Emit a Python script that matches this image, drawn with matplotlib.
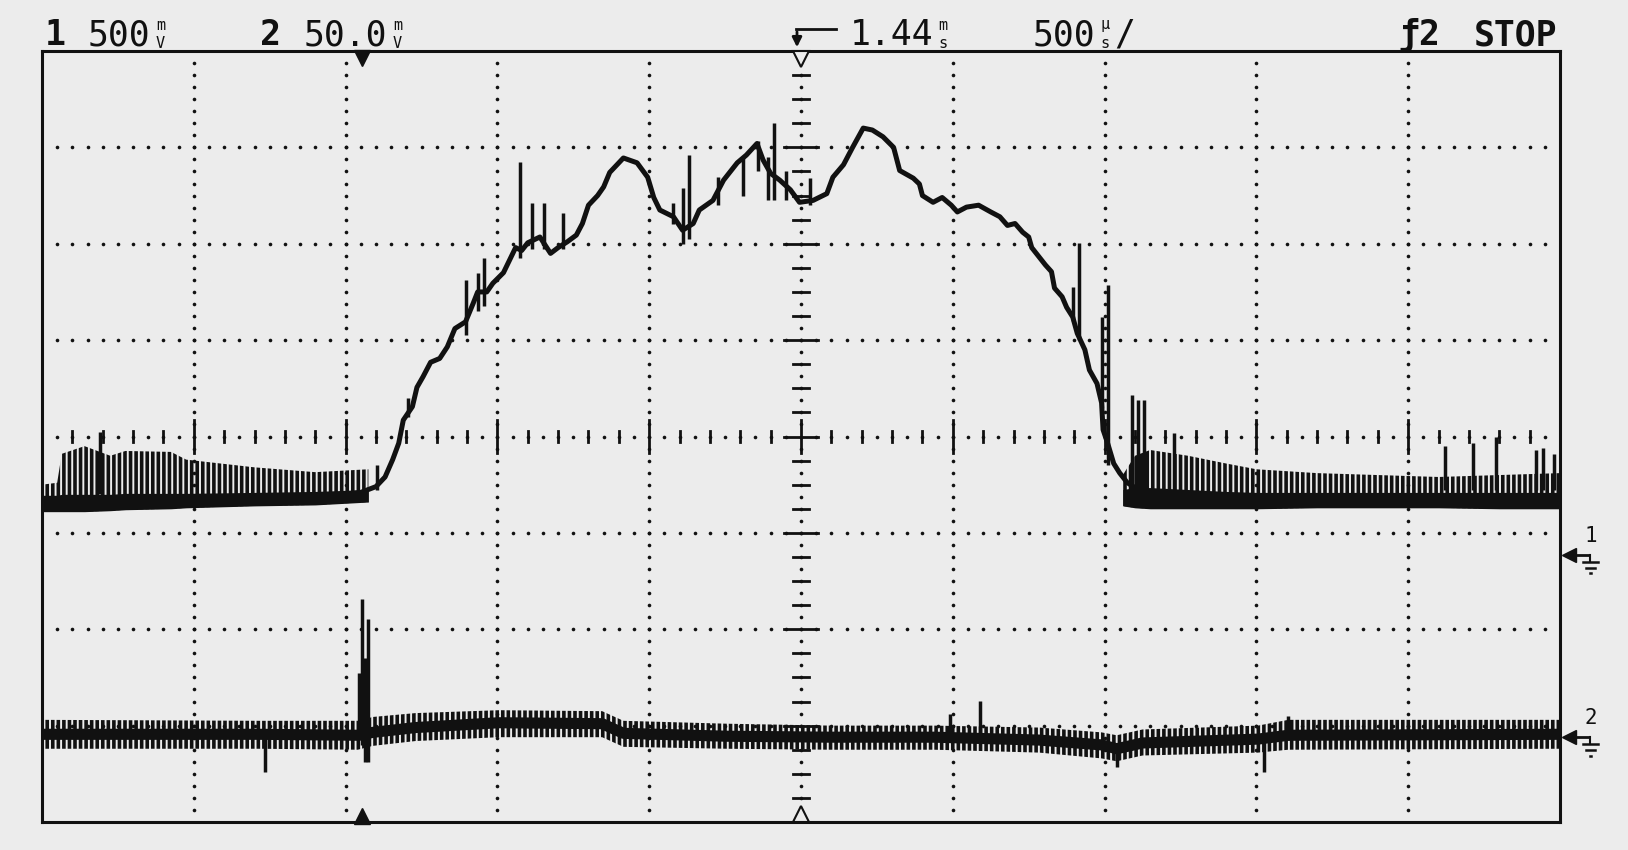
import numpy as np
import matplotlib
matplotlib.use("Agg")
import matplotlib.pyplot as plt

W, H = 1628, 850
BG = '#ececec'
INK = '#111111'
MONO = 'DejaVu Sans Mono'

# channel 1 trace in screen divisions (x 0..10, y 0..8)
ch1_x = [0.00, 0.50, 1.00, 1.50, 2.00, 2.10, 2.20, 2.26, 2.31, 2.35, 2.38, 2.44, 2.47, 2.51,
         2.56, 2.62, 2.67, 2.72, 2.79, 2.84, 2.87, 2.93, 2.97, 3.04, 3.08, 3.12, 3.16, 3.20,
         3.28, 3.35, 3.40, 3.46, 3.52, 3.56, 3.60, 3.66, 3.70, 3.74, 3.83, 3.92, 3.99, 4.03,
         4.07, 4.16, 4.22, 4.29, 4.33, 4.42, 4.49, 4.58, 4.64, 4.71, 4.75, 4.80, 4.86, 4.93,
         4.99, 5.08, 5.17, 5.21, 5.28, 5.34, 5.41, 5.47, 5.54, 5.61, 5.65, 5.74, 5.78, 5.80,
         5.87, 5.93, 5.99, 6.03, 6.09, 6.17, 6.25, 6.31, 6.36, 6.41, 6.46, 6.50, 6.52, 6.57,
         6.61, 6.65, 6.67, 6.72, 6.75, 6.79, 6.82, 6.87, 6.90, 6.95, 6.98, 6.99, 7.02, 7.06,
         7.10, 7.15, 7.25, 7.50, 8.00, 9.00, 10.00]
ch1_y = [3.32, 3.33, 3.35, 3.37, 3.40, 3.42, 3.48, 3.58, 3.76, 3.93, 4.17, 4.31, 4.51, 4.62,
         4.77, 4.81, 4.93, 5.12, 5.19, 5.38, 5.50, 5.50, 5.59, 5.70, 5.83, 5.96, 5.93, 6.01,
         6.07, 5.90, 5.96, 6.02, 6.09, 6.21, 6.40, 6.50, 6.59, 6.74, 6.89, 6.84, 6.69, 6.48,
         6.35, 6.28, 6.14, 6.21, 6.35, 6.45, 6.66, 6.84, 6.92, 7.04, 6.87, 6.73, 6.66, 6.56,
         6.43, 6.45, 6.52, 6.69, 6.82, 7.00, 7.20, 7.18, 7.11, 7.00, 6.76, 6.68, 6.62, 6.50,
         6.43, 6.48, 6.40, 6.33, 6.38, 6.40, 6.33, 6.28, 6.19, 6.21, 6.12, 6.07, 5.96, 5.86,
         5.78, 5.71, 5.54, 5.45, 5.34, 5.24, 5.07, 4.90, 4.69, 4.55, 4.35, 4.07, 3.93, 3.72,
         3.62, 3.52, 3.42, 3.38, 3.38, 3.38, 3.37]

# ripple on the flat parts of channel 1: bottom, top of solid core, top of spikes
ch1_left_x = [0.00, 0.10, 0.13, 0.28, 0.45, 0.55, 0.85, 0.95, 1.40, 1.80, 2.15]
ch1_left_lo = [3.22, 3.22, 3.22, 3.22, 3.23, 3.24, 3.25, 3.26, 3.28, 3.29, 3.32]
ch1_left_core = [3.39, 3.39, 3.40, 3.40, 3.40, 3.41, 3.41, 3.41, 3.42, 3.43, 3.45]
ch1_left_hi = [3.50, 3.52, 3.82, 3.90, 3.80, 3.85, 3.84, 3.76, 3.68, 3.63, 3.66]

ch1_right_x = [7.12, 7.20, 7.30, 7.55, 7.80, 8.00, 8.40, 8.80, 9.20, 9.60, 10.00]
ch1_right_lo = [3.28, 3.26, 3.25, 3.25, 3.25, 3.25, 3.26, 3.26, 3.26, 3.25, 3.25]
ch1_right_core = [3.45, 3.47, 3.47, 3.45, 3.43, 3.42, 3.42, 3.42, 3.42, 3.42, 3.42]
ch1_right_hi = [3.60, 3.80, 3.86, 3.80, 3.72, 3.66, 3.62, 3.60, 3.58, 3.60, 3.62]

# single glitches on channel 1
ch1_spike_x = [0.38, 2.21, 2.41, 2.79, 2.87, 2.91, 3.15, 3.23, 3.31, 3.43, 4.16, 4.22, 4.26,
               4.45, 4.62, 4.72, 4.78, 4.82, 4.90, 5.06, 6.79, 6.83, 6.98, 7.02, 7.18, 7.22,
               7.26, 7.46, 9.24, 9.43, 9.58, 9.84, 9.89, 9.96]
ch1_spike_lo = [3.40, 3.45, 4.20, 5.05, 5.30, 5.35, 5.85, 5.95, 5.95, 5.95, 6.20, 6.00, 6.05,
                6.40, 6.50, 6.75, 6.45, 6.45, 6.45, 6.40, 5.20, 5.00, 4.30, 3.70, 3.45, 3.45,
                3.45, 3.45, 3.45, 3.45, 3.45, 3.45, 3.45, 3.45]
ch1_spike_hi = [4.05, 3.70, 4.40, 5.62, 5.70, 5.85, 6.85, 6.42, 6.42, 6.32, 6.42, 6.58, 6.92,
                6.69, 6.90, 7.07, 6.90, 7.25, 6.75, 6.68, 5.55, 6.01, 5.24, 5.57, 4.43, 4.38,
                4.38, 4.04, 3.90, 3.93, 3.99, 3.86, 3.88, 3.82]

# channel 2: centre, ripple band, glitches
ch2_x = [0.00, 1.43, 2.08, 2.18, 2.46, 3.01, 3.69, 3.83, 4.51, 5.20, 5.88, 6.57, 6.98,
         7.08, 7.25, 8.01, 8.21, 10.00]
ch2_y = [0.91, 0.91, 0.90, 0.93, 0.98, 1.03, 1.02, 0.92, 0.89, 0.88, 0.88, 0.85, 0.80,
         0.76, 0.82, 0.86, 0.90, 0.91]
ch2_hi = [1.06, 1.05, 1.05, 1.09, 1.13, 1.16, 1.15, 1.05, 1.02, 1.00, 1.00, 0.98, 0.93,
          0.90, 0.96, 1.00, 1.06, 1.06]
ch2_lo = [0.76, 0.76, 0.75, 0.79, 0.84, 0.88, 0.88, 0.78, 0.76, 0.75, 0.75, 0.72, 0.66,
          0.63, 0.69, 0.72, 0.75, 0.76]
ch2_spike_x = [1.47, 2.09, 2.11, 2.13, 2.15, 5.98, 6.18, 7.08, 8.05, 8.21]
ch2_spike_lo = [0.52, 0.85, 0.80, 0.62, 0.62, 0.90, 0.90, 0.57, 0.52, 0.85]
ch2_spike_hi = [0.88, 1.55, 2.31, 1.70, 2.11, 1.12, 1.26, 0.80, 0.88, 1.10]

ch1_ground = 2.77
ch2_ground = 0.88
trig_x = 2.11

plt.rcParams['hatch.linewidth'] = 2.6
plt.rcParams['hatch.color'] = INK

fig = plt.figure(figsize=(W / 100, H / 100), dpi=100, facecolor=BG)
ax = fig.add_axes([42 / W, 1 - 822 / H, 1518 / W, 771 / H])
ax.set_xlim(0, 10)
ax.set_ylim(0, 8)
ax.set_facecolor(BG)
ax.set_xticks([])
ax.set_yticks([])
for s in ax.spines.values():
    s.set_linewidth(2.2)
    s.set_color(INK)

# dotted graticule
for i in range(1, 10):
    ys = np.arange(0.125, 8, 0.125)
    ax.plot([i] * len(ys), ys, 'o', ms=2.6, color=INK, mec='none', zorder=1)
for j in range(1, 8):
    xs = np.arange(0.1, 10, 0.1)
    ax.plot(xs, [j] * len(xs), 'o', ms=2.6, color=INK, mec='none', zorder=1)

# centre axes with tick marks
for t in np.arange(0.2, 10, 0.2):
    h = 0.17 if abs(t - round(t)) < 1e-6 else 0.06
    ax.plot([t, t], [4 - h, 4 + h], color=INK, lw=2.0, zorder=1)
for t in np.arange(0.25, 8, 0.25):
    w = 0.11 if abs(t - round(t)) < 1e-6 else 0.05
    ax.plot([5 - w, 5 + w], [t, t], color=INK, lw=2.0, zorder=1)

# trigger markers
ax.plot(trig_x, 7.93, marker='v', ms=11, color=INK, clip_on=False, zorder=3)
ax.plot(trig_x, 0.06, marker='^', ms=11, color=INK, clip_on=False, zorder=3)
ax.plot(5, 7.92, marker='v', ms=11, mfc=BG, mec=INK, mew=1.5, clip_on=False, zorder=3)
ax.plot(5, 0.08, marker='^', ms=11, mfc=BG, mec=INK, mew=1.5, clip_on=False, zorder=3)

# channel 1
ax.fill_between(ch1_left_x, ch1_left_lo, ch1_left_core, color=INK, lw=0, zorder=2)
ax.fill_between(ch1_left_x, ch1_left_lo, ch1_left_hi, facecolor='none', edgecolor=INK,
                hatch='|||', lw=0, zorder=2)
ax.fill_between(ch1_right_x, ch1_right_lo, ch1_right_core, color=INK, lw=0, zorder=2)
ax.fill_between(ch1_right_x, ch1_right_lo, ch1_right_hi, facecolor='none', edgecolor=INK,
                hatch='|||', lw=0, zorder=2)
ax.plot(ch1_x, ch1_y, color=INK, lw=3.6, zorder=3)
ax.vlines(ch1_spike_x, ch1_spike_lo, ch1_spike_hi, color=INK, lw=2.5, zorder=3)

# channel 2
ax.fill_between(ch2_x, ch2_lo, ch2_hi, facecolor='none', edgecolor=INK,
                hatch='|||', lw=0, zorder=2)
ax.plot(ch2_x, ch2_y, color=INK, lw=8, zorder=3)
ax.vlines(ch2_spike_x, ch2_spike_lo, ch2_spike_hi, color=INK, lw=2.5, zorder=3)

# ground markers on the right
for gy, lab in [(ch1_ground, '1'), (ch2_ground, '2')]:
    ax.plot(10.06, gy, marker='<', ms=10, color=INK, clip_on=False)
    ax.plot([10.06, 10.19], [gy, gy], color=INK, lw=2, clip_on=False)
    ax.text(10.20, gy + 0.2, lab, fontsize=15, family=MONO, color=INK,
            ha='center', va='center', clip_on=False)
    ax.plot([10.20, 10.20], [gy, gy - 0.07], color=INK, lw=1.5, clip_on=False)
    ax.plot([10.15, 10.25], [gy - 0.07, gy - 0.07], color=INK, lw=1.8, clip_on=False)
    ax.plot([10.17, 10.23], [gy - 0.13, gy - 0.13], color=INK, lw=1.8, clip_on=False)
    ax.plot([10.195, 10.205], [gy - 0.19, gy - 0.19], color=INK, lw=1.8, clip_on=False)


def label(x, y, s, size=25, weight='normal'):
    fig.text(x / W, 1 - y / H, s, fontsize=size, family=MONO, weight=weight,
             color=INK, ha='left', va='center')


def unit(x, top, bottom):
    label(x, 25, top, size=11)
    label(x, 44, bottom, size=11)


label(45, 35, '1', weight='bold')
label(88, 35, '500')
unit(156, 'm', 'V')
label(260, 35, '2', weight='bold')
label(304, 35, '50.0')
unit(393, 'm', 'V')

ax.annotate('', xy=(797, H - 50), xytext=(797, H - 29), xycoords='figure pixels',
            textcoords='figure pixels',
            arrowprops=dict(arrowstyle='-|>', lw=2, color=INK, mutation_scale=14))
fig.add_artist(plt.Line2D([796 / W, 836 / W], [1 - 29 / H, 1 - 29 / H], color=INK, lw=2))
label(850, 35, '1.44')
unit(938, 'm', 's')
label(1033, 35, '500')
unit(1100, 'µ', 's')
label(1114, 35, '/')
label(1398, 35, 'ƒ2', weight='bold')
label(1474, 35, 'STOP', weight='bold')

fig.savefig('out.png', dpi=100, facecolor=BG)
